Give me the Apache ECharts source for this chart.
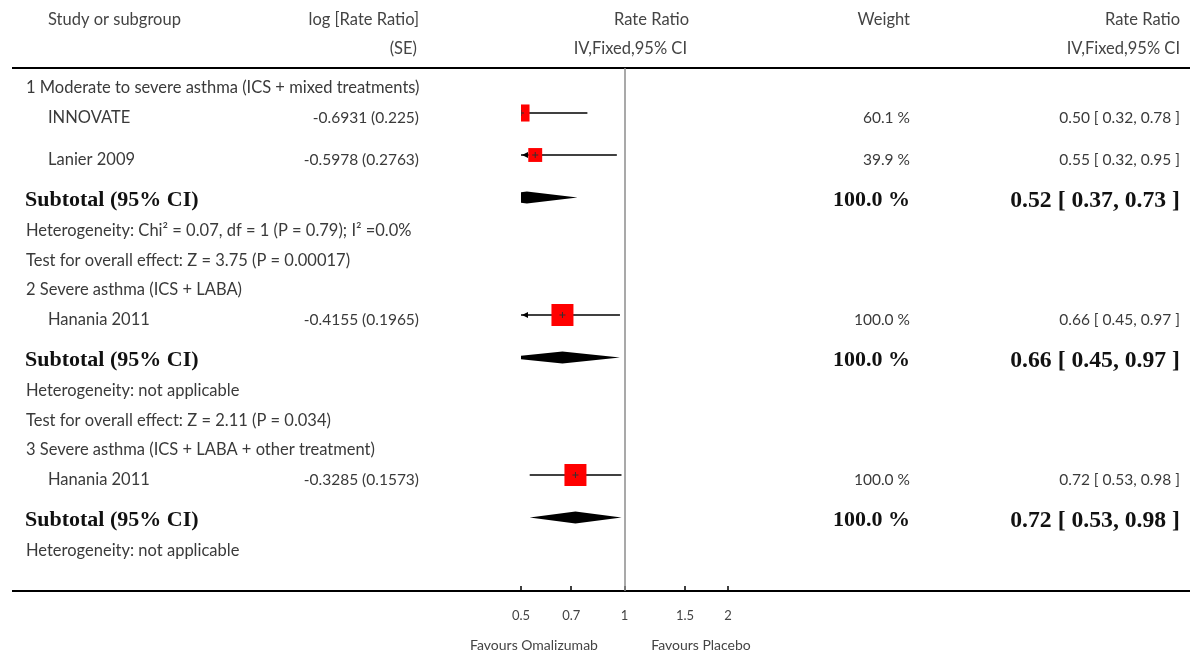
<!DOCTYPE html>
<html>
<head>
<meta charset="utf-8">
<title>Omalizumab vs placebo – rate ratio forest plot</title>
<script src="https://cdn.jsdelivr.net/npm/echarts@6/dist/echarts.min.js"></script>
<style>
  html, body { margin: 0; padding: 0; background: #fff; }
  #chart { width: 1190px; height: 653px; }
</style>
</head>
<body>
<div id="chart"></div>
<script>
// ---- data ---------------------------------------------------------------
const subgroupNames = [
  '1 Moderate to severe asthma (ICS + mixed treatments)',
  '2 Severe asthma (ICS + LABA)',
  '3 Severe asthma (ICS + LABA + other treatment)'
];
const studyNames   = ['INNOVATE', 'Lanier 2009', 'Hanania 2011', 'Hanania 2011'];
const studyGroup   = [0, 0, 1, 2];
const studyLogRR   = ['-0.6931', '-0.5978', '-0.4155', '-0.3285'];
const studySE      = ['0.225', '0.2763', '0.1965', '0.1573'];
const studyWeight  = [60.1, 39.9, 100.0, 100.0];
const studyRR      = [0.50, 0.55, 0.66, 0.72];
const studyLow     = [0.32, 0.32, 0.45, 0.53];
const studyHigh    = [0.78, 0.95, 0.97, 0.98];

const subtotalWeight = [100.0, 100.0, 100.0];
const subtotalRR     = [0.52, 0.66, 0.72];
const subtotalLow    = [0.37, 0.45, 0.53];
const subtotalHigh   = [0.73, 0.97, 0.98];

const heterogeneity = [
  'Heterogeneity: Chi² = 0.07, df = 1 (P = 0.79); I² =0.0%',
  'Heterogeneity: not applicable',
  'Heterogeneity: not applicable'
];
const overallEffect = [
  'Test for overall effect: Z = 3.75 (P = 0.00017)',
  'Test for overall effect: Z = 2.11 (P = 0.034)',
  null
];

const tickValues   = [0.5, 0.7, 1, 1.5, 2];
const tickLabels   = ['0.5', '0.7', '1', '1.5', '2'];
const axisRange    = [0.5, 2];
const favourLabels = ['Favours Omalizumab', 'Favours Placebo'];

const headerTop    = ['Study or subgroup', 'log [Rate Ratio]', 'Rate Ratio', 'Weight', 'Rate Ratio'];
const headerBottom = ['(SE)', 'IV,Fixed,95% CI', 'IV,Fixed,95% CI'];

// ---- styling & layout ---------------------------------------------------
const W = 1190, H = 653;
const GRID = { left: 521, right: 462, top: 68, bottom: 62 };
const SANS = 'Lato, "Noto Sans", sans-serif';
const SERIF = '"Liberation Serif", "DejaVu Serif", serif';
const BODY = '#3a3a3a';
const HEAD = '#444';
const BOLD = '#111';
const TEXT_SIZE = 16.5;
const NUM_SIZE = 15.5;
const COL = { group: 26, study: 48, logrr: 419, weight: 910, ci: 1180 };

const fmt2 = v => v.toFixed(2);
const fmtW = v => v.toFixed(1) + ' %';
const fmtCI = (rr, lo, hi) => `${fmt2(rr)} [ ${fmt2(lo)}, ${fmt2(hi)} ]`;
const lg = Math.log10;

// Build the table rows in display order and stack them vertically.
const rows = [];
subgroupNames.forEach((name, g) => {
  rows.push({ kind: 'group', text: name });
  studyNames.forEach((s, i) => { if (studyGroup[i] === g) rows.push({ kind: 'study', i }); });
  rows.push({ kind: 'subtotal', g });
  rows.push({ kind: 'note', text: heterogeneity[g] });
  if (overallEffect[g]) rows.push({ kind: 'note', text: overallEffect[g] });
});
let cursor = 20;
rows.forEach((r, k) => {
  if (k > 0) {
    const prev = rows[k - 1].kind;
    let gap = 29.5;
    if (prev === 'study') gap = r.kind === 'study' ? 42 : 41;
    else if (prev === 'subtotal') gap = 30.5;
    cursor += gap;
  }
  r.y = cursor;
});
const Y_MAX = H - GRID.top - GRID.bottom;

const STUDY_SHIFT = -4.5;   // square sits slightly above the text line
const DIAMOND_SHIFT = -3;

const studyData = [];
const subtotalData = [];
rows.forEach(r => {
  if (r.kind === 'study') {
    const i = r.i;
    studyData.push([lg(studyRR[i]), r.y + STUDY_SHIFT, lg(studyLow[i]), lg(studyHigh[i]), studyWeight[i]]);
  } else if (r.kind === 'subtotal') {
    const g = r.g;
    subtotalData.push([lg(subtotalRR[g]), r.y + DIAMOND_SHIFT, lg(subtotalLow[g]), lg(subtotalHigh[g])]);
  }
});

function txt(x, y, text, o) {
  return {
    type: 'text',
    style: Object.assign({
      x, y, text,
      align: 'left', verticalAlign: 'middle',
      fill: BODY, fontSize: TEXT_SIZE, fontFamily: SANS, fontWeight: 'normal'
    }, o || {})
  };
}

// ---- render functions ---------------------------------------------------
function renderRowText(params, api) {
  const r = rows[params.dataIndex];
  const y = api.coord([0, r.y])[1];
  const kids = [];
  const num = { fontSize: NUM_SIZE, align: 'right' };
  if (r.kind === 'group' || r.kind === 'note') {
    kids.push(txt(COL.group, y, r.text));
  } else if (r.kind === 'study') {
    const i = r.i;
    kids.push(txt(COL.study, y, studyNames[i]));
    kids.push(txt(COL.logrr, y, `${studyLogRR[i]} (${studySE[i]})`, num));
    kids.push(txt(COL.weight, y, fmtW(studyWeight[i]), num));
    kids.push(txt(COL.ci, y, fmtCI(studyRR[i], studyLow[i], studyHigh[i]), num));
  } else if (r.kind === 'subtotal') {
    const g = r.g;
    const b = { fontFamily: SERIF, fontWeight: 'bold', fill: BOLD };
    kids.push(txt(COL.group - 1, y, 'Subtotal (95% CI)', Object.assign({ fontSize: 22 }, b)));
    kids.push(txt(COL.weight, y, fmtW(subtotalWeight[g]), Object.assign({ fontSize: 22, align: 'right' }, b)));
    kids.push(txt(COL.ci, y, fmtCI(subtotalRR[g], subtotalLow[g], subtotalHigh[g]),
      Object.assign({ fontSize: 23.7, align: 'right' }, b)));
  }
  return { type: 'group', children: kids };
}

function renderStudy(params, api) {
  const [x0, x1] = [lg(axisRange[0]), lg(axisRange[1])];
  const yv = api.value(1);
  const c = api.coord([api.value(0), yv]);
  const lo = api.value(2), hi = api.value(3);
  const xl = api.coord([Math.max(lo, x0), yv])[0];
  const xr = api.coord([Math.min(hi, x1), yv])[0];
  const y = c[1];
  const s = 22 * Math.sqrt(api.value(4) / 100);
  const kids = [
    { type: 'line', shape: { x1: xl, y1: y, x2: xr, y2: y }, style: { stroke: '#000', lineWidth: 1.5 } }
  ];
  if (lo < x0) kids.push({ type: 'polygon', shape: { points: [[xl + 1, y], [xl + 7, y - 3], [xl + 7, y + 3]] }, style: { fill: '#000' } });
  if (hi > x1) kids.push({ type: 'polygon', shape: { points: [[xr - 1, y], [xr - 7, y - 3], [xr - 7, y + 3]] }, style: { fill: '#000' } });
  kids.push({ type: 'rect', shape: { x: c[0] - s / 2, y: y - s / 2, width: s, height: s }, style: { fill: '#ff0000' } });
  kids.push({ type: 'line', shape: { x1: c[0] - 3, y1: y, x2: c[0] + 3, y2: y }, style: { stroke: '#333', lineWidth: 1 } });
  kids.push({ type: 'line', shape: { x1: c[0], y1: y - 3, x2: c[0], y2: y + 3 }, style: { stroke: '#333', lineWidth: 1 } });
  return { type: 'group', children: kids };
}

function renderDiamond(params, api) {
  const yv = api.value(1);
  const c = api.coord([api.value(0), yv]);
  const l = api.coord([api.value(2), yv]);
  const r = api.coord([api.value(3), yv]);
  const h = 6;
  return {
    type: 'polygon',
    shape: { points: [[l[0], c[1]], [c[0], c[1] - h], [r[0], c[1]], [c[0], c[1] + h]] },
    style: { fill: '#000' }
  };
}

// ---- chart --------------------------------------------------------------
const chart = echarts.init(document.getElementById('chart'), null, { renderer: 'canvas' });
const tickLogs = tickValues.map(lg);
const gridBottomY = H - GRID.bottom;

chart.setOption({
  animation: false,
  backgroundColor: '#fff',
  grid: GRID,
  xAxis: {
    type: 'value',
    position: 'bottom',
    min: lg(axisRange[0]),
    max: lg(axisRange[1]),
    axisLine: { show: false, onZero: false },
    splitLine: { show: false },
    axisTick: { show: true, inside: true, length: 5, customValues: tickLogs, lineStyle: { color: '#000', width: 1.5 } },
    axisLabel: {
      show: true, customValues: tickLogs, margin: 18,
      color: '#444', fontSize: 13, fontFamily: SANS,
      formatter: v => {
        let best = 0;
        tickLogs.forEach((t, k) => { if (Math.abs(t - v) < Math.abs(tickLogs[best] - v)) best = k; });
        return tickLabels[best];
      }
    }
  },
  yAxis: { type: 'value', inverse: true, min: 0, max: Y_MAX, show: false },
  graphic: [
    { type: 'line', shape: { x1: 12, y1: GRID.top, x2: W, y2: GRID.top }, style: { stroke: '#000', lineWidth: 2 } },
    { type: 'line', shape: { x1: 12, y1: gridBottomY, x2: W, y2: gridBottomY }, style: { stroke: '#000', lineWidth: 2 } },
    txt(48, 20, headerTop[0], { fill: HEAD }),
    txt(419, 20, headerTop[1], { fill: HEAD, align: 'right' }),
    txt(689, 20, headerTop[2], { fill: HEAD, align: 'right' }),
    txt(910, 20, headerTop[3], { fill: HEAD, align: 'right' }),
    txt(1180, 20, headerTop[4], { fill: HEAD, align: 'right' }),
    txt(417, 49, headerBottom[0], { fill: HEAD, align: 'right' }),
    txt(687, 49, headerBottom[1], { fill: HEAD, align: 'right' }),
    txt(1180, 49, headerBottom[2], { fill: HEAD, align: 'right' }),
    txt(534, 645, favourLabels[0], { fill: '#444', fontSize: 14, align: 'center' }),
    txt(701, 645, favourLabels[1], { fill: '#444', fontSize: 14, align: 'center' })
  ],
  series: [
    {
      // line of no effect (rate ratio = 1)
      type: 'line',
      data: [],
      silent: true,
      markLine: {
        silent: true,
        symbol: ['none', 'none'],
        label: { show: false },
        lineStyle: { color: '#8c8c8c', width: 1.5, type: 'solid' },
        data: [{ xAxis: 0 }]
      }
    },
    {
      type: 'custom',
      name: 'table',
      silent: true,
      clip: false,
      data: rows.map((r, k) => [0, r.y, k]),
      encode: { x: 0, y: 1 },
      renderItem: renderRowText
    },
    {
      type: 'custom',
      name: 'studies',
      silent: true,
      clip: true,
      data: studyData,
      encode: { x: 0, y: 1 },
      renderItem: renderStudy
    },
    {
      type: 'custom',
      name: 'subtotals',
      silent: true,
      clip: true,
      data: subtotalData,
      encode: { x: 0, y: 1 },
      renderItem: renderDiamond
    }
  ]
});
</script>
</body>
</html>
